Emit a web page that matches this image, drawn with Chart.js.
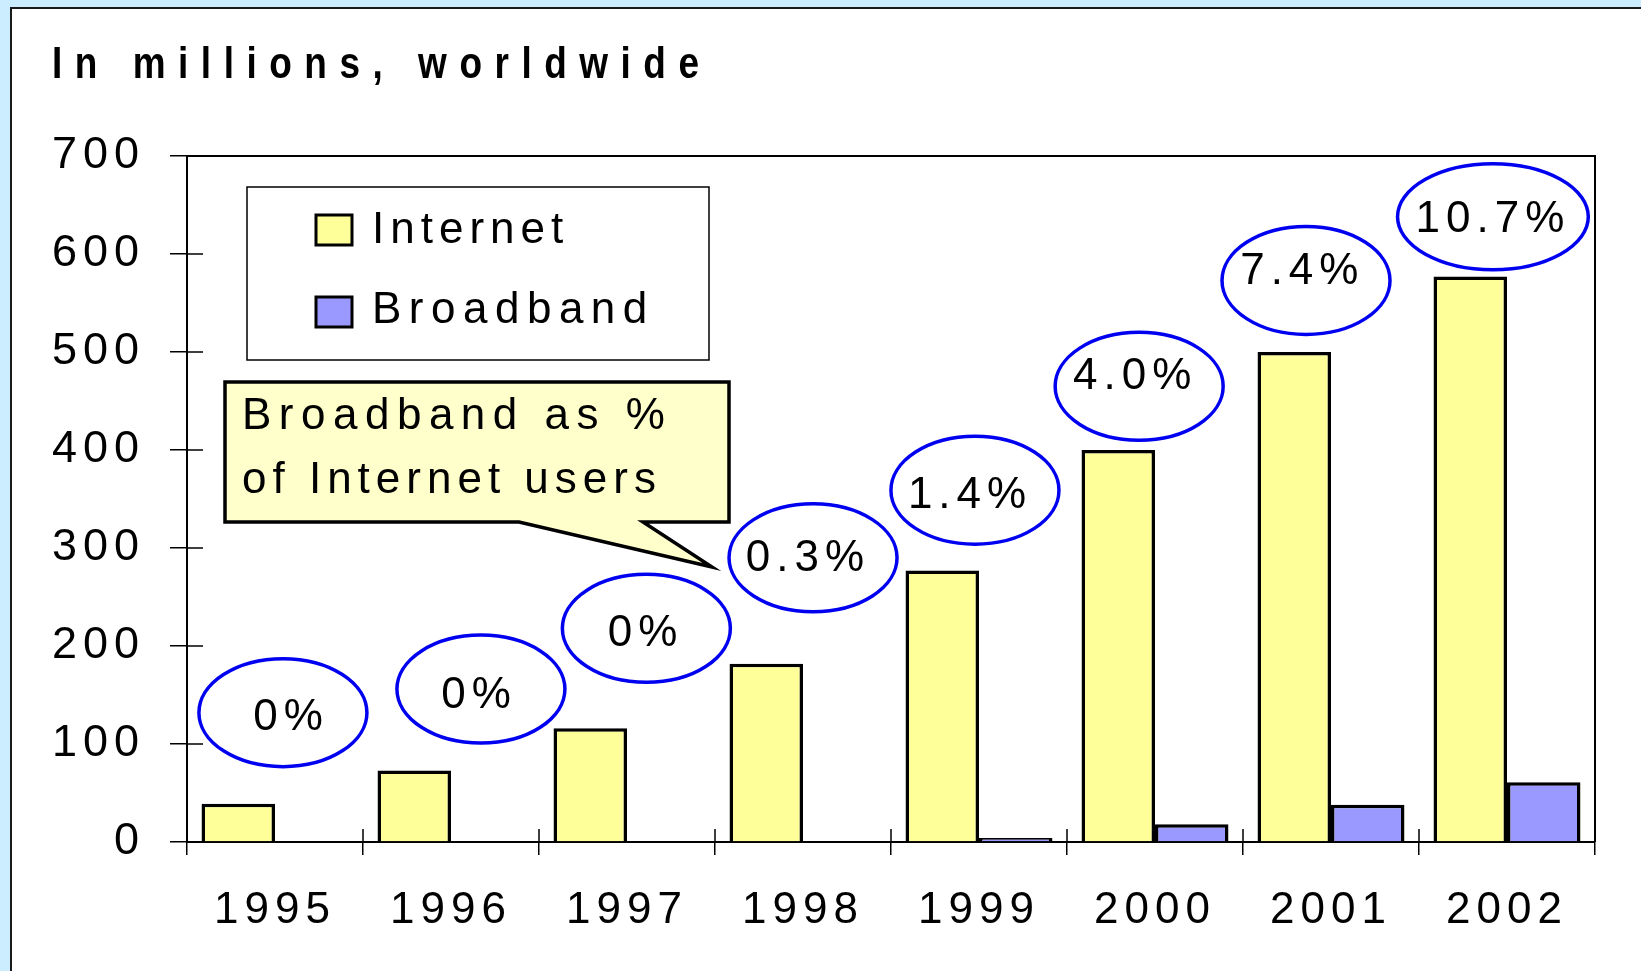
<!DOCTYPE html>
<html><head><meta charset="utf-8">
<script src="https://cdn.jsdelivr.net/npm/chart.js@4.4.0/dist/chart.umd.min.js"></script>
<style>
html,body{margin:0;padding:0;background:#ccecff;width:1641px;height:971px;overflow:hidden}
#panel{position:absolute;left:10px;top:7px;width:1700px;height:1100px;background:#fff;border:2px solid #1a1a1a;}
#c{position:absolute;left:0;top:0}
</style></head><body>
<div id="panel"></div>
<canvas id="c" width="1641" height="971"></canvas>
<script>
// ---- data ----
const years = ['1995','1996','1997','1998','1999','2000','2001','2002'];
const internetUsers = [39, 73, 116, 182, 277, 400, 500, 577];
const broadbandUsers = [0, 0, 0, 0, 4, 18, 38, 61];
const broadbandShareLabels = ['0%','0%','0%','0.3%','1.4%','4.0%','7.4%','10.7%'];
const yTickValues = [0, 100, 200, 300, 400, 500, 600, 700];
const titleText = 'In millions, worldwide';
const calloutLines = ['Broadband as %', 'of Internet users'];

// ---- annotation placement (data units: category offset, value) ----
const bubbleDX = [0.045, 0.17, 0.11, 0.057, -0.023, -0.09, -0.142, -0.08];
const bubbleY  = [132, 156, 218, 290, 359, 465, 573, 638];
const textDX   = [0.074, 0.142, 0.089, 0.011, -0.068, -0.13, -0.18, -0.097];
const textY    = [131, 153, 216, 293, 357, 479, 586, 639];

const FONT = '"Liberation Sans", Arial, sans-serif';

function spacedText(ctx, text, x, y, spacing, align) {
  ctx.letterSpacing = spacing + 'px';
  const w = ctx.measureText(text).width - spacing;
  let sx = x;
  if (align === 'center') sx = x - w / 2;
  else if (align === 'right') sx = x - w;
  ctx.textAlign = 'left';
  ctx.fillText(text, sx, y);
  return w;
}

const decor = {
  id: 'decor',
  beforeLayout(chart) { chart.ctx.letterSpacing = '6px'; },
  beforeDraw(chart) { chart.ctx.letterSpacing = '6px'; },
  afterDraw(chart) {
    const ctx = chart.ctx, a = chart.chartArea, xs = chart.scales.x, ys = chart.scales.y;
    ctx.save();
    // frame (top & right)
    ctx.strokeStyle = '#000'; ctx.lineWidth = 2;
    ctx.beginPath();
    ctx.moveTo(a.left, a.top); ctx.lineTo(a.right, a.top); ctx.lineTo(a.right, a.bottom);
    ctx.stroke();
    // inner tick stubs
    ctx.beginPath();
    ys.ticks.forEach(t => {
      const y = Math.round(ys.getPixelForValue(t.value));
      ctx.moveTo(a.left, y); ctx.lineTo(a.left + 16, y);
    });
    for (let i = 0; i <= years.length; i++) {
      const x = Math.round(xs.getPixelForValue(i - 0.5));
      ctx.moveTo(x, a.bottom); ctx.lineTo(x, a.bottom - 13);
    }
    ctx.lineWidth = 1.5;
    ctx.stroke();

    // title (condensed bold)
    ctx.save();
    ctx.fillStyle = '#000';
    ctx.font = 'bold 44px "Liberation Sans Narrow", "Liberation Sans", Arial, sans-serif';
    ctx.translate(52, 78);
    const sxScale = 0.84;
    ctx.scale(sxScale, 1);
    ctx.letterSpacing = '0px';
    const raw = ctx.measureText(titleText).width;
    const sp = Math.max(0, (647 / sxScale - raw) / (titleText.length - 1));
    spacedText(ctx, titleText, 0, 0, sp, 'left');
    ctx.restore();

    // legend
    const lx = a.left + 60, ly = a.top + 31;
    ctx.fillStyle = '#fff'; ctx.strokeStyle = '#000'; ctx.lineWidth = 1.5;
    ctx.fillRect(lx, ly, 462, 173); ctx.strokeRect(lx, ly, 462, 173);
    ctx.font = '44px ' + FONT;
    chart.data.datasets.forEach((ds, i) => {
      const sy = ly + 28 + i * 82;
      ctx.fillStyle = ds.backgroundColor; ctx.fillRect(a.left + 129, sy, 36, 30);
      ctx.lineWidth = 3; ctx.strokeStyle = '#000'; ctx.strokeRect(a.left + 129, sy, 36, 30);
      ctx.fillStyle = '#000';
      spacedText(ctx, ds.label, a.left + 185, sy + 28 - (i ? 2 : 0), i ? 7.5 : 6, 'left');
    });

    // callout
    const bl = a.left + 38, bt = a.top + 226, br = a.left + 542, bb = a.top + 366;
    ctx.beginPath();
    ctx.moveTo(bl, bt); ctx.lineTo(br, bt); ctx.lineTo(br, bb);
    ctx.lineTo(a.left + 456, bb); ctx.lineTo(a.left + 525, a.top + 411);
    ctx.lineTo(a.left + 332, bb); ctx.lineTo(bl, bb); ctx.closePath();
    ctx.fillStyle = '#ffffcc'; ctx.fill();
    ctx.lineWidth = 3.5; ctx.lineJoin = 'miter'; ctx.strokeStyle = '#000'; ctx.stroke();
    ctx.fillStyle = '#000'; ctx.font = '44px ' + FONT;
    calloutLines.forEach((t, i) => spacedText(ctx, t, a.left + 55, a.top + 273 + i * 64, i ? 6 : 7.5, 'left'));

    // percentage bubbles
    ctx.font = '44px ' + FONT;
    broadbandShareLabels.forEach((lab, i) => {
      ctx.letterSpacing = '6px';
      const tw = ctx.measureText(lab).width - 6;
      const cx = xs.getPixelForValue(i + bubbleDX[i]);
      const cy = ys.getPixelForValue(bubbleY[i]);
      const rx = Math.max(84, tw / 2 + 21), ry = lab.length > 4 ? 53 : 54;
      ctx.beginPath(); ctx.ellipse(cx, cy, rx, ry, 0, 0, Math.PI * 2);
      ctx.strokeStyle = '#0000f0'; ctx.lineWidth = 3.5; ctx.stroke();
      const tx = xs.getPixelForValue(i + textDX[i]);
      const ty = ys.getPixelForValue(textY[i]);
      ctx.fillStyle = '#000';
      spacedText(ctx, lab, tx, ty + 16, 6, 'center');
    });
    ctx.restore();
  }
};

new Chart(document.getElementById('c'), {
  type: 'bar',
  data: {
    labels: years,
    datasets: [
      { label: 'Internet', data: internetUsers, backgroundColor: '#ffff99', borderColor: '#000', borderWidth: 3.5, borderSkipped: 'bottom' },
      { label: 'Broadband', data: broadbandUsers, backgroundColor: '#9999ff', borderColor: '#000', borderWidth: 3.5, borderSkipped: 'bottom' }
    ]
  },
  options: {
    responsive: false, animation: false, devicePixelRatio: 1,
    layout: { padding: { top: 156, right: 46, left: 0, bottom: 0 } },
    datasets: { bar: { categoryPercentage: 0.835, barPercentage: 1 } },
    plugins: { legend: { display: false }, tooltip: { enabled: false }, title: { display: false } },
    scales: {
      x: {
        type: 'category', offset: true,
        grid: { offset: true, drawOnChartArea: false, drawTicks: true, tickLength: 13, color: '#000', lineWidth: 1.5 },
        border: { display: true, color: '#000', width: 2 },
        ticks: { font: { family: FONT, size: 44 }, color: '#000', padding: 29, maxRotation: 0, autoSkip: false },
        afterFit: s => { s.height = 129; }
      },
      y: {
        min: 0, max: 700,
        afterBuildTicks: s => { s.ticks = yTickValues.map(v => ({ value: v })); },
        ticks: { font: { family: FONT, size: 45 }, color: '#000', padding: 25 },
        grid: { drawOnChartArea: false, tickLength: 17, color: '#000', lineWidth: 1.5 },
        border: { display: true, color: '#000', width: 2 },
        afterFit: s => { s.width = 187; }
      }
    }
  },
  plugins: [decor]
});
</script>
</body></html>
